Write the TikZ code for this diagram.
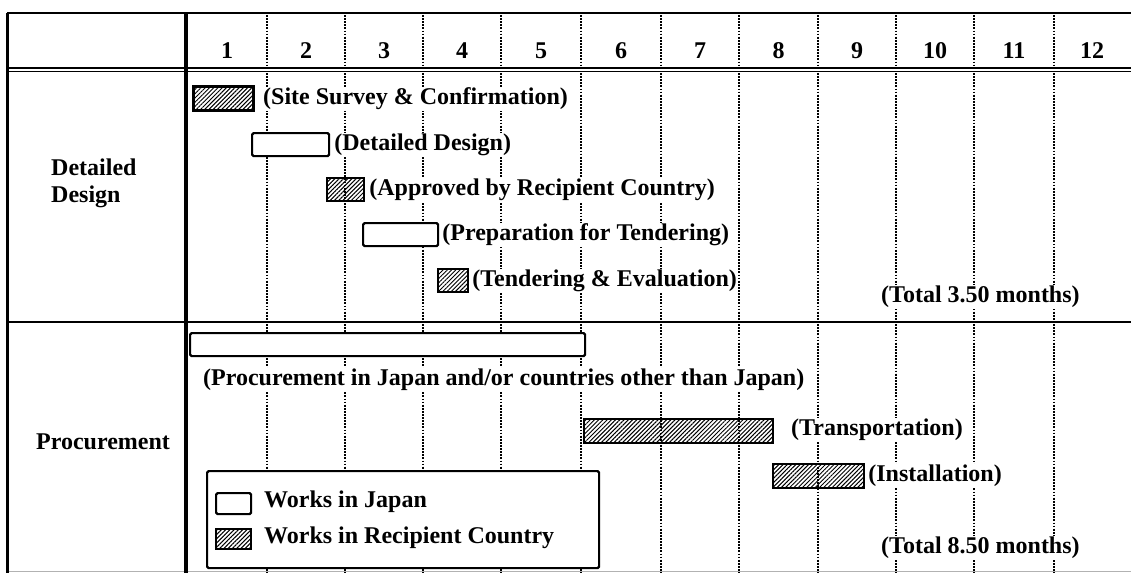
\documentclass[tikz,border=0pt]{standalone}
\usepackage{fontspec}
\setmainfont{Liberation Serif}
\usetikzlibrary{patterns.meta}
\begin{document}
\begin{tikzpicture}[x=1pt,y=-1pt,
  txt/.style={font=\fontsize{24}{28}\selectfont\bfseries, inner sep=1pt, fill=white},
  num/.style={font=\fontsize{24}{28}\selectfont\bfseries, inner sep=0pt},
  gridline/.style={line width=1.9pt, dash pattern=on 1.8pt off 1.3pt},
  hbar/.style={draw, line width=2.2pt, pattern={Lines[angle=45,distance=3pt,line width=1pt]}, inner sep=0pt, anchor=north west},
  wbar/.style={draw, line width=2.2pt, fill=white, rounded corners=1.5pt, inner sep=0pt, anchor=north west},
]
\useasboundingbox (0,0) rectangle (1131,573);
% grid lines
\foreach \gx in {267,345,423,501,581,661,739,818,896,974,1054}{
  \draw[gridline] (\gx,15) -- (\gx,66);
  \draw[gridline] (\gx,73) -- (\gx,573);
}
% frame
\draw[line width=2pt] (7,13) -- (1131,13);
\draw[line width=1.4pt] (7,68) -- (1131,68);
\draw[line width=1.4pt] (7,71.5) -- (1131,71.5);
\draw[line width=1.8pt] (7,322) -- (1131,322);
\draw[line width=0.8pt, gray!60] (7,571) -- (1131,571);
\draw[line width=3pt] (7,13) -- (7,573);
\draw[line width=4pt] (186,13) -- (186,573);
% header numbers
\foreach \cx/\lab [count=\i] in {227/1,306/2,384/3,462/4,541/5,621/6,700/7,778.5/8,857/9,935/10,1014/11,1092/12}{
  \node[num, anchor=base] (n\i) at (\cx,58) {\lab};
}
% row labels
\node[txt, anchor=west] (ldet) at (50,167) {Detailed};
\node[txt, anchor=west] (ldes) at (50,197) {Design};
\node[txt, anchor=west] (lpro) at (35,442) {Procurement};
% Detailed design bars
\node[hbar, minimum width=60, minimum height=24] (ss) at (193,86) {};
\node[txt, anchor=west] (ssl) at (262,99) {(Site Survey \& Confirmation)};
\node[wbar, minimum width=77, minimum height=23] (dd) at (251,132) {};
\node[txt, anchor=west] (ddl) at ([xshift=3pt]dd.east) {(Detailed Design)};
\node[hbar, minimum width=37, minimum height=23] (ap) at (326,177) {};
\node[txt, anchor=west] (apl) at ([xshift=3pt]ap.east) {(Approved by Recipient Country)};
\node[wbar, minimum width=75, minimum height=23] (pt) at (362,222) {};
\node[txt, anchor=west] (ptl) at ([xshift=2pt]pt.east) {(Preparation for Tendering)};
\node[hbar, minimum width=30, minimum height=23] (te) at (437,268) {};
\node[txt, anchor=west] (tel) at ([xshift=2pt]te.east) {(Tendering \& Evaluation)};
\node[txt, anchor=west] (tot1) at (880,297) {(Total 3.50 months)};
% Procurement bars
\node[wbar, minimum width=395, minimum height=23] (pr) at (189,332) {};
\node[txt, anchor=west] (prl) at (202,380) {(Procurement in Japan and/or countries other than Japan)};
\node[hbar, minimum width=189, minimum height=24] (tr) at (583,418) {};
\node[txt, anchor=west] (trl) at (790,430) {(Transportation)};
\node[hbar, minimum width=91, minimum height=24] (in) at (772,463) {};
\node[txt, anchor=west] (inl) at ([xshift=2pt]in.east) {(Installation)};
\node[txt, anchor=west] (tot2) at (880,548) {(Total 8.50 months)};
% legend
\node[wbar, minimum width=392, minimum height=97] (lg) at (206,470) {};
\node[wbar, minimum width=35, minimum height=21] (lgw) at (215,492) {};
\node[txt, anchor=west] (lgwl) at (263,502) {Works in Japan};
\node[hbar, minimum width=35, minimum height=20] (lgh) at (215,528) {};
\node[txt, anchor=west] (lghl) at (263,538) {Works in Recipient Country};
\end{tikzpicture}
\end{document}
